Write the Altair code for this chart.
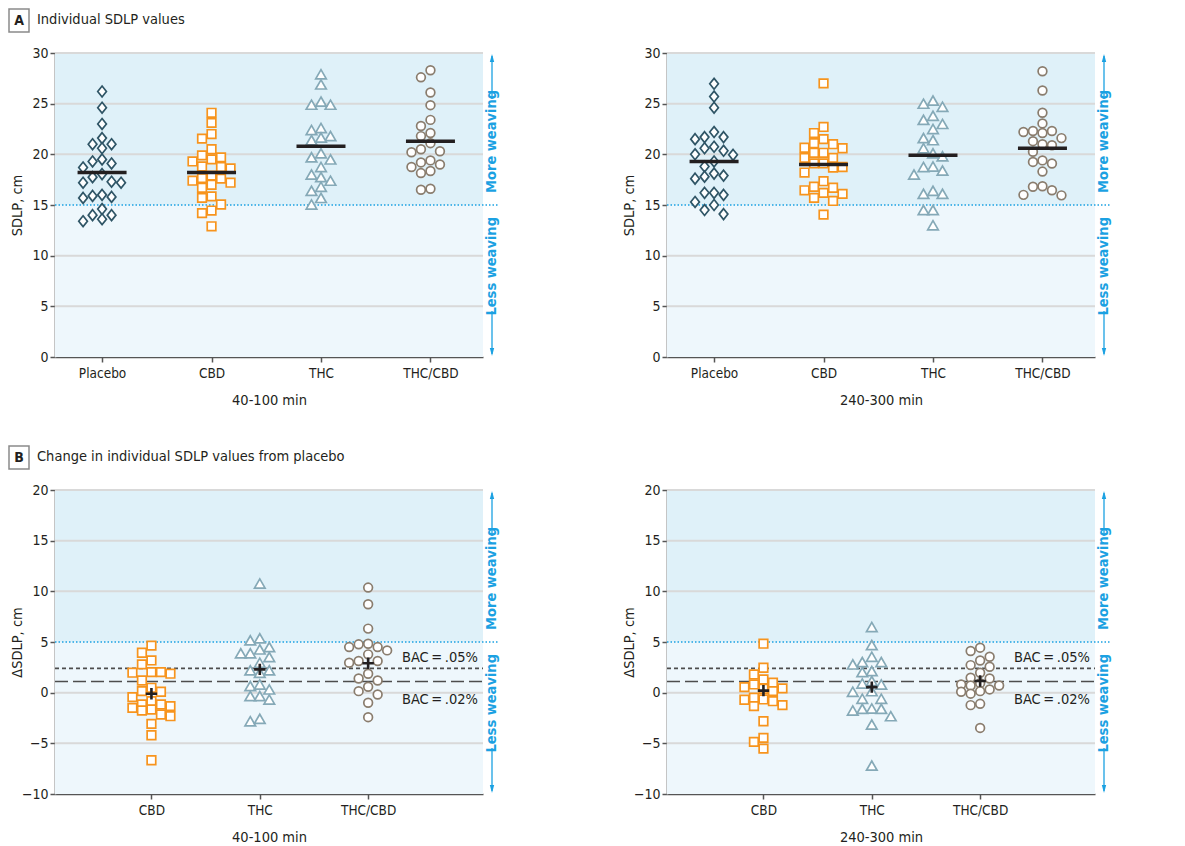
import altair as alt
import pandas as pd

FONT = "DejaVu Sans Condensed, DejaVu Sans, sans-serif"

GROUPS_A = ["Placebo", "CBD", "THC", "THC/CBD"]
GROUPS_B = ["CBD", "THC", "THC/CBD"]

# Panel A, 40-100 min (SDLP, cm)
a_early_placebo = [26.2, 24.6, 23.0, 21.0, 21.0, 21.6, 20.6, 19.5, 19.1, 19.3, 18.7, 18.05, 17.75,
                   17.2, 17.3, 17.2, 15.8, 15.9, 15.7, 16.0, 14.6, 13.6, 14.0, 14.0, 13.4]
a_early_cbd = [24.1, 23.1, 22.0, 21.55, 20.5, 19.7, 19.9, 19.3, 19.5, 18.6, 18.75, 18.8, 17.9, 17.65,
               17.2, 17.0, 16.7, 17.4, 17.6, 15.7, 15.85, 15.05, 14.2, 14.45, 12.9]
a_early_thc = [27.9, 26.9, 24.9, 24.9, 25.2, 22.4, 22.6, 21.4, 21.8, 21.65, 20.1, 19.5, 19.7, 18.75,
               18.0, 17.75, 17.4, 16.4, 16.8, 15.7, 15.05]
a_early_thccbd = [28.3, 27.6, 26.1, 24.85, 23.4, 22.8, 22.1, 21.8, 21.1, 20.2, 20.3, 20.5, 19.2, 19.4,
                  19.0, 18.75, 18.35, 18.15, 16.5, 16.6]
a_early_means = [18.2, 18.2, 20.8, 21.3]

# Panel A, 240-300 min
a_late_placebo = [26.96, 25.7, 24.6, 22.2, 21.7, 21.7, 21.5, 20.75, 20.6, 20.0, 19.95, 20.35, 19.3,
                  18.8, 18.1, 17.8, 17.9, 17.6, 16.2, 16.0, 16.2, 15.3, 15.0, 14.5, 14.1]
a_late_cbd = [27.0, 22.7, 22.1, 21.1, 21.0, 21.5, 20.6, 20.15, 20.65, 20.15, 19.65, 19.65, 19.1, 18.7,
              18.75, 19.1, 18.2, 17.35, 16.2, 16.8, 16.7, 16.45, 16.1, 15.7, 15.4, 14.05]
a_late_thc = [25.3, 25.0, 24.7, 23.8, 23.4, 23.0, 22.5, 21.4, 21.6, 20.6, 19.8, 20.1, 18.4, 18.0,
              18.75, 18.8, 16.1, 16.1, 16.4, 14.5, 14.5, 13.0]
a_late_thccbd = [28.2, 26.3, 24.1, 23.05, 22.3, 22.1, 22.3, 22.2, 21.6, 21.3, 20.9, 21.0, 20.25, 19.25,
                 19.1, 19.4, 18.3, 16.85, 16.8, 16.0, 16.45, 15.95]
a_late_means = [19.3, 19.0, 19.9, 20.6]

# Panel B, change from placebo, 40-100 min
b_early_cbd = [4.64, 3.94, 3.18, 2.79, 2.03, 1.97, 1.87, 2.03, 1.2, 0.48, 0.15, 0.09, -0.44, -0.84,
               -1.33, -1.17, -1.17, -1.5, -1.66, -1.76, -2.32, -2.16, -3.08, -4.2, -6.67]
b_early_thc = [10.77, 5.36, 5.16, 4.5, 4.27, 3.88, 3.88, 3.51, 2.95, 2.2, 2.2, 1.97, 0.65, 0.81, 0.32,
               -0.34, -0.34, -0.67, -2.82, -2.58]
b_early_thccbd = [10.37, 8.72, 6.32, 4.83, 4.5, 4.5, 4.77, 4.17, 3.78, 3.12, 3.12, 2.95, 1.87, 1.4, 1.2,
                  0.58, 0.15, -0.18, -1.0, -2.42]
b_early_means = [-0.1, 2.3, 2.9]

# Panel B, 240-300 min
b_late_cbd = [4.83, 2.46, 1.8, 1.3, 0.98, 0.81, 0.55, 0.42, 0.38, 0.15, -0.5, -0.7, -0.67, -0.84,
              -1.23, -1.33, -2.82, -4.86, -4.46, -5.52]
b_late_thc = [6.48, 4.7, 3.55, 3.02, 3.02, 2.79, 2.13, 2.03, 0.91, 0.81, 1.14, 0.09, 0.15, -0.6, -0.6,
              -1.56, -1.76, -1.6, -1.6, -2.32, -3.15, -7.2]
b_late_thccbd = [4.44, 4.11, 3.55, 3.18, 2.72, 2.56, 1.97, 1.4, 1.47, 0.94, 0.81, 0.71, 0.71, 0.32,
                 0.15, 0.09, -0.1, -1.1, -1.23, -3.48]
b_late_means = [0.2, 0.55, 1.15]

TICKS_A = [0, 5, 10, 15, 20, 25, 30]
TICKS_B = [-10, -5, 0, 5, 10, 15, 20]
BAC_VALUES = [2.4, 1.1]
BAC_LABELS = ["BAC\u2009=\u2009.05%", "BAC\u2009=\u2009.02%"]

# ---------------- styling ----------------
W, H = 428, 304
SLOT = 9.5
DIAM = 9.5
MAX_SLOT = 2
SHAPES = {"Placebo": "M0,-1L0.8,0L0,1L-0.8,0Z", "CBD": "square", "THC": "triangle-up", "THC/CBD": "circle"}
STROKES = {"Placebo": "#2f5566", "CBD": "#f7941d", "THC": "#85a9b7", "THC/CBD": "#8a7d6e"}
SIZES = {"Placebo": 118, "CBD": 74, "THC": 112, "THC/CBD": 76}
BLUE = "#1ba1e2"
BG_HI = "#dff1f9"
BG_LO = "#eef7fc"
DARK = "#231f20"


def swarm(vals, ppu):
    """Deterministic beeswarm: nearest free column, capped at +/-MAX_SLOT columns."""
    order = sorted(range(len(vals)), key=lambda i: -vals[i])
    placed = []
    slots = [0] * len(vals)
    cands = [0]
    for k in range(1, MAX_SLOT + 1):
        cands += [-k, k]
    for i in order:
        yp = vals[i] * ppu
        best, best_d = 0, -1.0
        for s in cands:
            dmin = min([((abs(s - ps) * SLOT) ** 2 + (yp - py) ** 2) ** 0.5 for ps, py in placed] or [99])
            if dmin >= DIAM:
                best = s
                break
            if dmin > best_d + 0.5:
                best, best_d = s, dmin
        slots[i] = best
        placed.append((best, yp))
    return slots


def panel(groups, series, means, ydom, thr, yticks, ytitle, xtitle, xdom, kind, header=None):
    ppu_x = W / (xdom[1] - xdom[0])
    ppu_y = H / (ydom[1] - ydom[0])
    labels_js = "[''," + ",".join("'%s'" % g for g in groups) + "]"

    def X(field):
        return alt.X(field, type="quantitative",
                     scale=alt.Scale(domain=list(xdom), nice=False, zero=False),
                     axis=alt.Axis(values=list(range(1, len(groups) + 1)),
                                   labelExpr=labels_js + "[datum.value]",
                                   title=xtitle, grid=False,
                                   titleY=43, titleBaseline="middle"))

    def Y(field):
        return alt.Y(field, type="quantitative",
                     scale=alt.Scale(domain=list(ydom), nice=False, zero=False),
                     axis=alt.Axis(values=yticks, title=ytitle, grid=False,
                                   titleX=-38, titleY=H / 2, titleBaseline="middle",
                                   titleAlign="center", titleAngle=270))

    one = pd.DataFrame({"k": [0]})

    bg = alt.Chart(pd.DataFrame({"value": [thr, ydom[0]], "value2": [ydom[1], thr],
                                 "fill": [BG_HI, BG_LO]})).mark_rect().encode(
        y=Y("value"), y2="value2", x=alt.value(0), x2=alt.value(W),
        fill=alt.Fill("fill:N", scale=None))

    grid_vals = [t for t in yticks if t != ydom[0] and t != thr]
    grid = alt.Chart(pd.DataFrame({"value": grid_vals})).mark_rule(
        color="#d9d9d9", strokeWidth=2).encode(y=Y("value"), x=alt.value(0), x2=alt.value(W))

    layers = [bg, grid]

    if kind == "delta":
        dashes = [[4, 3], [13, 5]]
        for v, lab, dash, dy in zip(BAC_VALUES, BAC_LABELS, dashes, [-10, 18]):
            d = pd.DataFrame({"value": [v], "label": [lab]})
            layers.append(alt.Chart(d).mark_rule(color="#4d4d4d", strokeWidth=1.6, strokeDash=dash)
                          .encode(y=Y("value"), x=alt.value(0), x2=alt.value(W)))
            layers.append(alt.Chart(d).mark_text(align="right", baseline="middle", fontSize=14.5,
                                                 color=DARK, dy=dy)
                          .encode(y=Y("value"), x=alt.value(W - 5), text="label:N"))

    thr_layer = alt.Chart(pd.DataFrame({"value": [thr]})).mark_rule(
        color=BLUE, strokeWidth=1.5, strokeDash=[1.5, 2]).encode(
        y=Y("value"), x=alt.value(0), x2=alt.value(W + 16))
    layers.append(thr_layer)

    for gi, (g, vals) in enumerate(zip(groups, series)):
        slots = swarm(vals, ppu_y)
        d = pd.DataFrame({"value": vals, "x": [gi + 1 + s * SLOT / ppu_x for s in slots]})
        layers.append(alt.Chart(d).mark_point(
            shape=SHAPES[g], size=SIZES[g], filled=True, fill="white", stroke=STROKES[g],
            strokeWidth=1.7, opacity=1).encode(x=X("x"), y=Y("value")))

    pos = list(range(1, len(groups) + 1))
    if kind == "abs":
        half = 24.5 / ppu_x
        md = pd.DataFrame({"x": [p - half for p in pos], "x2": [p + half for p in pos], "value": means})
        layers.append(alt.Chart(md).mark_rule(color=DARK, strokeWidth=3.5).encode(
            x=X("x"), x2="x2", y=Y("value")))
    else:
        md = pd.DataFrame({"x": pos, "value": means})
        layers.append(alt.Chart(md).mark_point(
            shape="M-1,0H1M0,-1V1", size=130, stroke=DARK, strokeWidth=2.6, filled=False,
            opacity=1).encode(x=X("x"), y=Y("value")))

    # right-hand "More / Less weaving" arrows
    thr_px = H * (ydom[1] - thr) / (ydom[1] - ydom[0])
    ax = W + 9
    L = 92
    layers.append(alt.Chart(one).mark_text(text="More weaving", angle=270, align="left",
                                           baseline="middle", dx=12, fontSize=14.5,
                                           fontWeight="bold", color=BLUE)
                  .encode(x=alt.value(ax), y=alt.value(thr_px)))
    layers.append(alt.Chart(one).mark_text(text="Less weaving", angle=270, align="right",
                                           baseline="middle", dx=-12, fontSize=14.5,
                                           fontWeight="bold", color=BLUE)
                  .encode(x=alt.value(ax), y=alt.value(thr_px)))
    layers.append(alt.Chart(one).mark_rule(color=BLUE, strokeWidth=1.3).encode(
        x=alt.value(ax), y=alt.value(3), y2=alt.value(thr_px - 12 - L - 2)))
    layers.append(alt.Chart(one).mark_rule(color=BLUE, strokeWidth=1.3).encode(
        x=alt.value(ax), y=alt.value(thr_px + 12 + L + 2), y2=alt.value(H - 3)))
    layers.append(alt.Chart(one).mark_point(shape="M0,-1L0.55,1L-0.55,1Z", size=64, filled=True,
                                            color=BLUE, opacity=1)
                  .encode(x=alt.value(ax), y=alt.value(5)))
    layers.append(alt.Chart(one).mark_point(shape="M0,1L0.55,-1L-0.55,-1Z", size=64, filled=True,
                                            color=BLUE, opacity=1)
                  .encode(x=alt.value(ax), y=alt.value(H - 5)))

    if header is not None:
        letter, text = header
        layers.append(alt.Chart(one).mark_rect(fill="white", stroke="#8a8a8a", strokeWidth=1.5)
                      .encode(x=alt.value(-46), x2=alt.value(-26), y=alt.value(-44), y2=alt.value(-21)))
        layers.append(alt.Chart(one).mark_text(text=letter, fontSize=14, fontWeight="bold",
                                               color=DARK, align="center", baseline="middle")
                      .encode(x=alt.value(-36), y=alt.value(-32)))
        layers.append(alt.Chart(one).mark_text(text=text, fontSize=14.5, color=DARK, align="left",
                                               baseline="middle")
                      .encode(x=alt.value(-18), y=alt.value(-33)))

    return alt.layer(*layers).properties(width=W, height=H)


XDOM_A = (0.57, 4.48)
XDOM_B = (0.11, 4.06)

p1 = panel(GROUPS_A, [a_early_placebo, a_early_cbd, a_early_thc, a_early_thccbd], a_early_means,
           (0, 30), 15, TICKS_A, "SDLP, cm", "40-100 min", XDOM_A, "abs",
           header=("A", "Individual SDLP values"))
p2 = panel(GROUPS_A, [a_late_placebo, a_late_cbd, a_late_thc, a_late_thccbd], a_late_means,
           (0, 30), 15, TICKS_A, "SDLP, cm", "240-300 min", XDOM_A, "abs")
p3 = panel(GROUPS_B, [b_early_cbd, b_early_thc, b_early_thccbd], b_early_means,
           (-10, 20), 5, TICKS_B, "\u0394SDLP, cm", "40-100 min", XDOM_B, "delta",
           header=("B", "Change in individual SDLP values from placebo"))
p4 = panel(GROUPS_B, [b_late_cbd, b_late_thc, b_late_thccbd], b_late_means,
           (-10, 20), 5, TICKS_B, "\u0394SDLP, cm", "240-300 min", XDOM_B, "delta")

chart = alt.concat(p1, p2, p3, p4, columns=2, spacing={"row": 133, "column": 184},
                   bounds="flush", padding=0).configure(font=FONT).configure_view(
    strokeWidth=0).configure_axis(
    labelFont=FONT, titleFont=FONT, labelColor=DARK, titleColor=DARK,
    titleFontWeight="normal", titleFontSize=14.5, labelFontSize=14,
    tickColor="#555555", tickSize=5, tickWidth=1.5, labelPadding=3).configure_axisX(
    domainColor="#555555", domainWidth=1.6, labelPadding=4, labelFontSize=13.5).configure_axisY(
    domainColor="#8c8c8c", domainWidth=2, labelPadding=2)

chart.save("out.html", embed_options={"renderer": "svg", "actions": False})
